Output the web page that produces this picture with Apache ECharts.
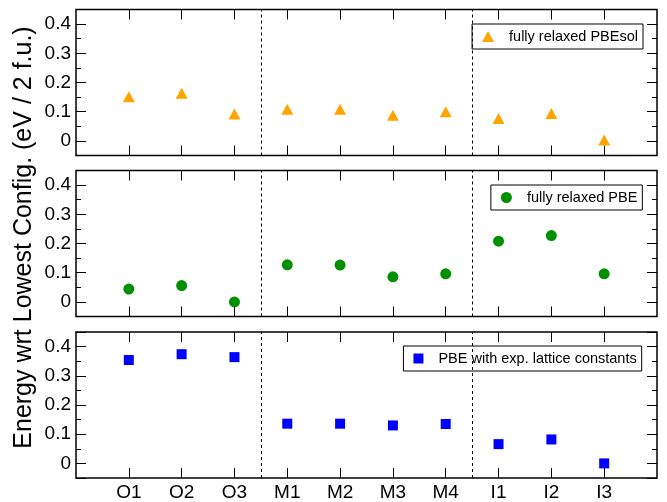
<!DOCTYPE html>
<html><head><meta charset="utf-8">
<script src="https://cdn.jsdelivr.net/npm/echarts@6/dist/echarts.min.js"></script>
<style>html,body{margin:0;padding:0;background:#fff}#c{width:667px;height:502px}</style>
</head><body><div id="c"></div>
<script>
const categories = ['O1','O2','O3','M1','M2','M3','M4','I1','I2','I3'];
const pbesolValues = [0.151, 0.163, 0.092, 0.108, 0.108, 0.088, 0.100, 0.077, 0.094, 0.003];
const pbeValues = [0.044, 0.056, 0.000, 0.127, 0.126, 0.086, 0.096, 0.208, 0.227, 0.096];
const expLatticeValues = [0.354, 0.374, 0.364, 0.136, 0.136, 0.130, 0.135, 0.066, 0.082, 0.000];
const seriesNames = ['fully relaxed PBEsol', 'fully relaxed PBE', 'PBE with exp. lattice constants'];
const yMajorTicks = [0, 0.1, 0.2, 0.3, 0.4];
const dividers = [3.5, 7.5];
const yTitle = 'Energy wrt Lowest Config. (eV / 2 f.u.)';

const FONT = 'Liberation Sans, Arial, Helvetica, sans-serif';
const panelValues = [pbesolValues, pbeValues, expLatticeValues];
const symbols = ['triangle', 'circle', 'rect'];
const symbolSizes = [[12, 11], 11, 10];
const legendIcon = [[12, 11], [11, 11], [10, 10]];
const colors = ['#FFA500', '#009000', '#0000FF'];
const gridTops = [9.5, 170.5, 332];
const legendTops = [24, 185, 346];
const legendRights = [24, 24.7, 25.3];
const xTickValues = categories.map((c, i) => i + 1);
const PLOT_LEFT = 76, PLOT_RIGHT = 657, PANEL_H = 146;

const grids = [], xAxes = [], yAxes = [], series = [], legends = [];
for (let g = 0; g < 3; g++) {
  // main panel grid
  const gi = grids.length;
  grids.push({left: PLOT_LEFT, right: 667 - PLOT_RIGHT, top: gridTops[g], height: PANEL_H, show: true,
    borderColor: '#000', borderWidth: 1.5, backgroundColor: 'transparent'});
  const xi = xAxes.length;
  ['bottom', 'top'].forEach(pos => {
    xAxes.push({gridIndex: gi, type: 'value', position: pos, min: 0, max: categories.length + 1,
      axisLine: {show: false, onZero: false}, splitLine: {show: false},
      axisTick: {show: true, inside: true, length: 10, customValues: xTickValues, lineStyle: {color: '#000', width: 1}},
      axisLabel: {show: pos === 'bottom' && g === 2, customValues: xTickValues, margin: 5,
        formatter: v => categories[Math.round(v) - 1] || '', color: '#000', fontSize: 19, fontFamily: FONT}
    });
  });
  const yi = yAxes.length;
  yAxes.push({gridIndex: gi, type: 'value', position: 'left', min: -0.05, max: 0.45,
    axisLine: {show: false, onZero: false}, splitLine: {show: false}, axisTick: {show: false},
    axisLabel: {show: true, customValues: yMajorTicks, margin: 5,
      formatter: v => String(v), color: '#000', fontSize: 19, fontFamily: FONT}
  });
  // narrow tick strips along the left and right frame: y split lines act as inward ticks
  [[PLOT_LEFT, 10, false], [PLOT_LEFT, 5, true], [PLOT_RIGHT - 10, 10, false], [PLOT_RIGHT - 5, 5, true]].forEach(([l, w, minor]) => {
    const ti = grids.length;
    grids.push({left: l, width: w, top: gridTops[g], height: PANEL_H, show: false});
    xAxes.push({gridIndex: ti, type: 'value', show: false, min: 0, max: 1});
    const ya = {gridIndex: ti, type: 'value', min: -0.05, max: 0.45,
      axisLine: {show: false, onZero: false}, axisTick: {show: false}, axisLabel: {show: false},
      splitLine: {show: true, lineStyle: {color: '#000', width: 1, type: 'solid'}}};
    if (minor) ya.interval = 0.05; else ya.splitNumber = 5;
    yAxes.push(ya);
  });
  series.push({
    name: seriesNames[g], type: 'scatter', xAxisIndex: xi, yAxisIndex: yi,
    symbol: symbols[g], symbolSize: symbolSizes[g], itemStyle: {color: colors[g], opacity: 1},
    data: panelValues[g].map((v, i) => [i + 1, v]),
    markLine: {silent: true, symbol: 'none', label: {show: false}, animation: false,
      lineStyle: {color: '#000', width: 1, type: [3, 3]},
      data: dividers.map(d => ({xAxis: d}))}
  });
  legends.push({
    data: [{name: seriesNames[g], icon: symbols[g]}], right: legendRights[g], top: legendTops[g],
    orient: 'horizontal', show: true, selectedMode: false,
    itemWidth: legendIcon[g][0], itemHeight: legendIcon[g][1],
    borderColor: '#000', borderWidth: 1, backgroundColor: '#fff', borderRadius: 0,
    padding: [4.5, 5, 4.5, 10],
    textStyle: {color: '#000', fontSize: 14.5, fontFamily: FONT, lineHeight: 16, padding: [0, 0, 0, 10]}
  });
}

const chart = echarts.init(document.getElementById('c'), null, {renderer: 'canvas'});
chart.setOption({
  animation: false,
  backgroundColor: '#fff',
  grid: grids, xAxis: xAxes, yAxis: yAxes, series: series, legend: legends,
  graphic: [{type: 'text', x: 24, y: 237.5, rotation: Math.PI / 2,
    style: {text: yTitle, font: '25px ' + FONT, fill: '#000', align: 'center', verticalAlign: 'middle',
      textAlign: 'center', textVerticalAlign: 'middle'}}]
});
</script></body></html>
